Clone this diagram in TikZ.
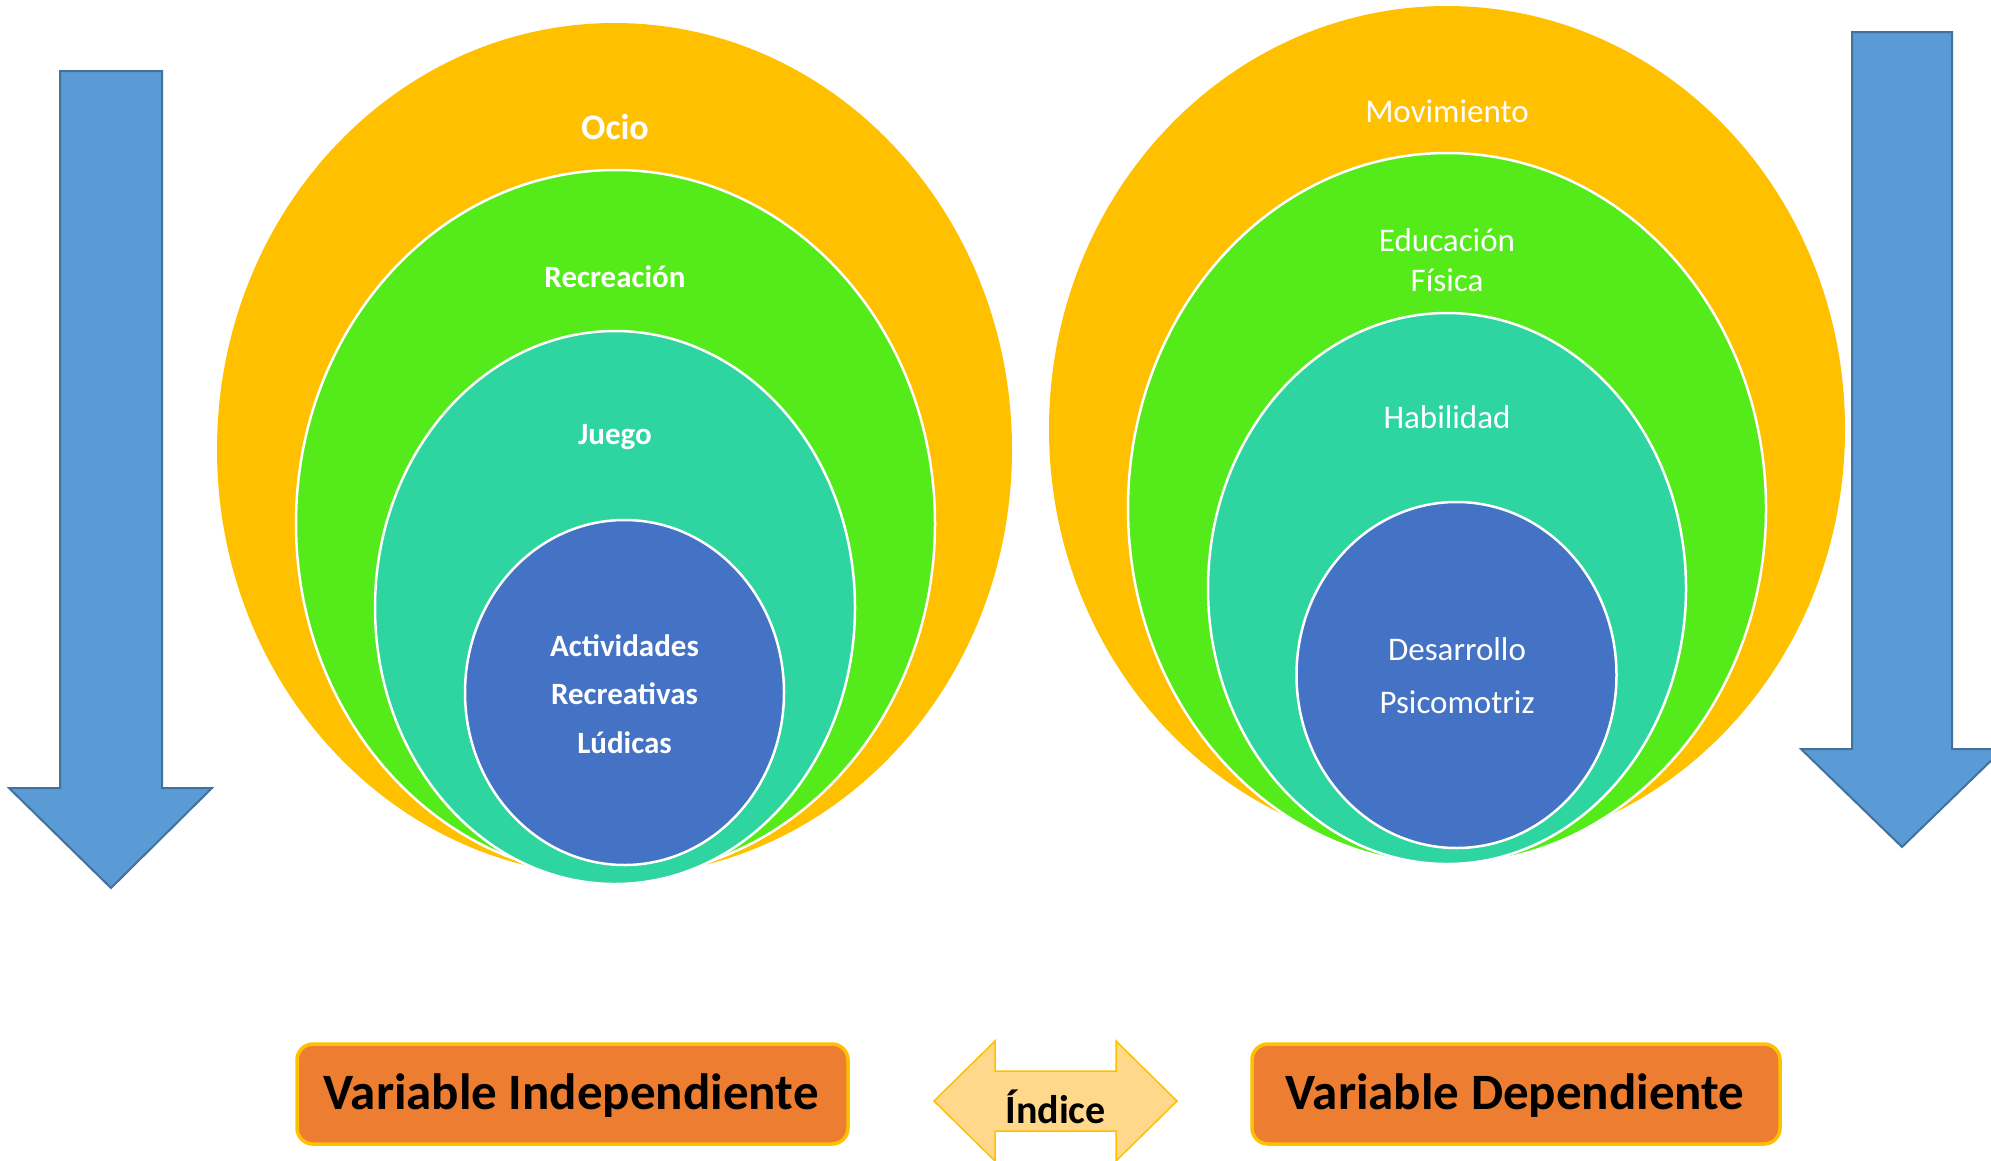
\documentclass[tikz,border=0pt]{standalone}
\usepackage{fontspec}
\setmainfont{Carlito}
\usetikzlibrary{shapes.geometric}
\definecolor{cOrange}{HTML}{FFC000}
\definecolor{cGreen}{HTML}{55EA1A}
\definecolor{cTeal}{HTML}{2FD5A0}
\definecolor{cBlue}{HTML}{4472C4}
\definecolor{cArrow}{HTML}{5B9BD5}
\definecolor{cArrowLine}{HTML}{41719C}
\definecolor{cBox}{HTML}{ED7D31}
\definecolor{cPeach}{HTML}{FFD88C}
\tikzset{
  ell/.style={ellipse, inner sep=0pt, outer sep=0pt},
  ringline/.style={draw=white, line width=2.5pt},
  bigarrow/.style={fill=cArrow, draw=cArrowLine, line width=2pt, line join=miter},
  lblB/.style={text=white, font=\fontsize{31}{31}\selectfont\bfseries, inner sep=0pt},
  lblR/.style={text=white, font=\fontsize{33}{33}\selectfont, inner sep=0pt},
  varbox/.style={rectangle, rounded corners=16pt, fill=cBox, draw=cOrange, line width=3.5pt,
    minimum height=100pt, inner sep=0pt, text=black},
  vartext/.style={inner sep=0pt, font=\fontsize{51}{51}\selectfont\bfseries, text=black}
}
\begin{document}
\begin{tikzpicture}[x=1pt,y=-1pt]
\useasboundingbox (0,0) rectangle (1991,1160);
% left arrow
\draw[bigarrow] (60,71) -- (162,71) -- (162,788) -- (212,788) -- (111,888) -- (9,788) -- (60,788) -- cycle;
% right arrow
\draw[bigarrow] (1852,32) -- (1952,32) -- (1952,749) -- (2003,749) -- (1902,847) -- (1801,749) -- (1852,749) -- cycle;
% left ellipses
\node[ell, fill=cOrange, minimum width=795pt, minimum height=853pt] (oL) at (614.5,449.5) {};
\node[ell, fill=cGreen, ringline, minimum width=639pt, minimum height=707pt] (gL) at (615.5,523.5) {};
\node[ell, fill=cTeal, ringline, minimum width=480pt, minimum height=553pt] (tL) at (615,607.5) {};
\node[ell, fill=cBlue, ringline, minimum width=319pt, minimum height=345pt] (bL) at (624.5,692.5) {};
% right ellipses
\node[ell, fill=cOrange, minimum width=796pt, minimum height=846pt] (oR) at (1447,429) {};
\node[ell, fill=cGreen, ringline, minimum width=638pt, minimum height=711pt] (gR) at (1447,508.5) {};
\node[ell, fill=cTeal, ringline, minimum width=478pt, minimum height=551pt] (tR) at (1447,588.5) {};
\node[ell, fill=cBlue, ringline, minimum width=320pt, minimum height=346pt] (bR) at (1456.5,675) {};
% left labels
\node[lblB, font=\fontsize{36}{36}\selectfont\bfseries] (ocio) at (615,127) {Ocio};
\node[lblB] (recr) at (615,277) {Recreación};
\node[lblB] (juego) at (615,437) {Juego};
\node[lblB] (act1) at (624.5,646) {Actividades};
\node[lblB] (act2) at (624.5,694) {Recreativas};
\node[lblB] (act3) at (624.5,743) {Lúdicas};
% right labels
\node[lblR] (mov) at (1447,111) {Movimiento};
\node[lblR] (edu1) at (1447,240) {Educación};
\node[lblR] (edu2) at (1447,280) {Física};
\node[lblR] (hab) at (1447,417) {Habilidad};
\node[lblR] (des1) at (1457,649) {Desarrollo};
\node[lblR] (des2) at (1457,702) {Psicomotriz};
% bottom boxes
\node[varbox, minimum width=551pt] (vi) at (572.5,1094) {};
\node[vartext] (vit) at (571,1096) {Variable Independiente};
\node[varbox, minimum width=528pt] (vd) at (1516,1094) {};
\node[vartext] (vdt) at (1515,1096) {Variable Dependiente};
% double arrow
\draw[fill=cPeach, draw=cOrange, line width=1.5pt, line join=miter]
  (934,1101) -- (995,1041) -- (995,1071) -- (1116,1071) -- (1116,1041) -- (1177,1101)
  -- (1116,1161) -- (1116,1131) -- (995,1131) -- (995,1161) -- cycle;
\node[inner sep=0pt, font=\fontsize{40}{40}\selectfont\bfseries] (ind) at (1055.5,1107) {Índice};
\end{tikzpicture}
\end{document}
